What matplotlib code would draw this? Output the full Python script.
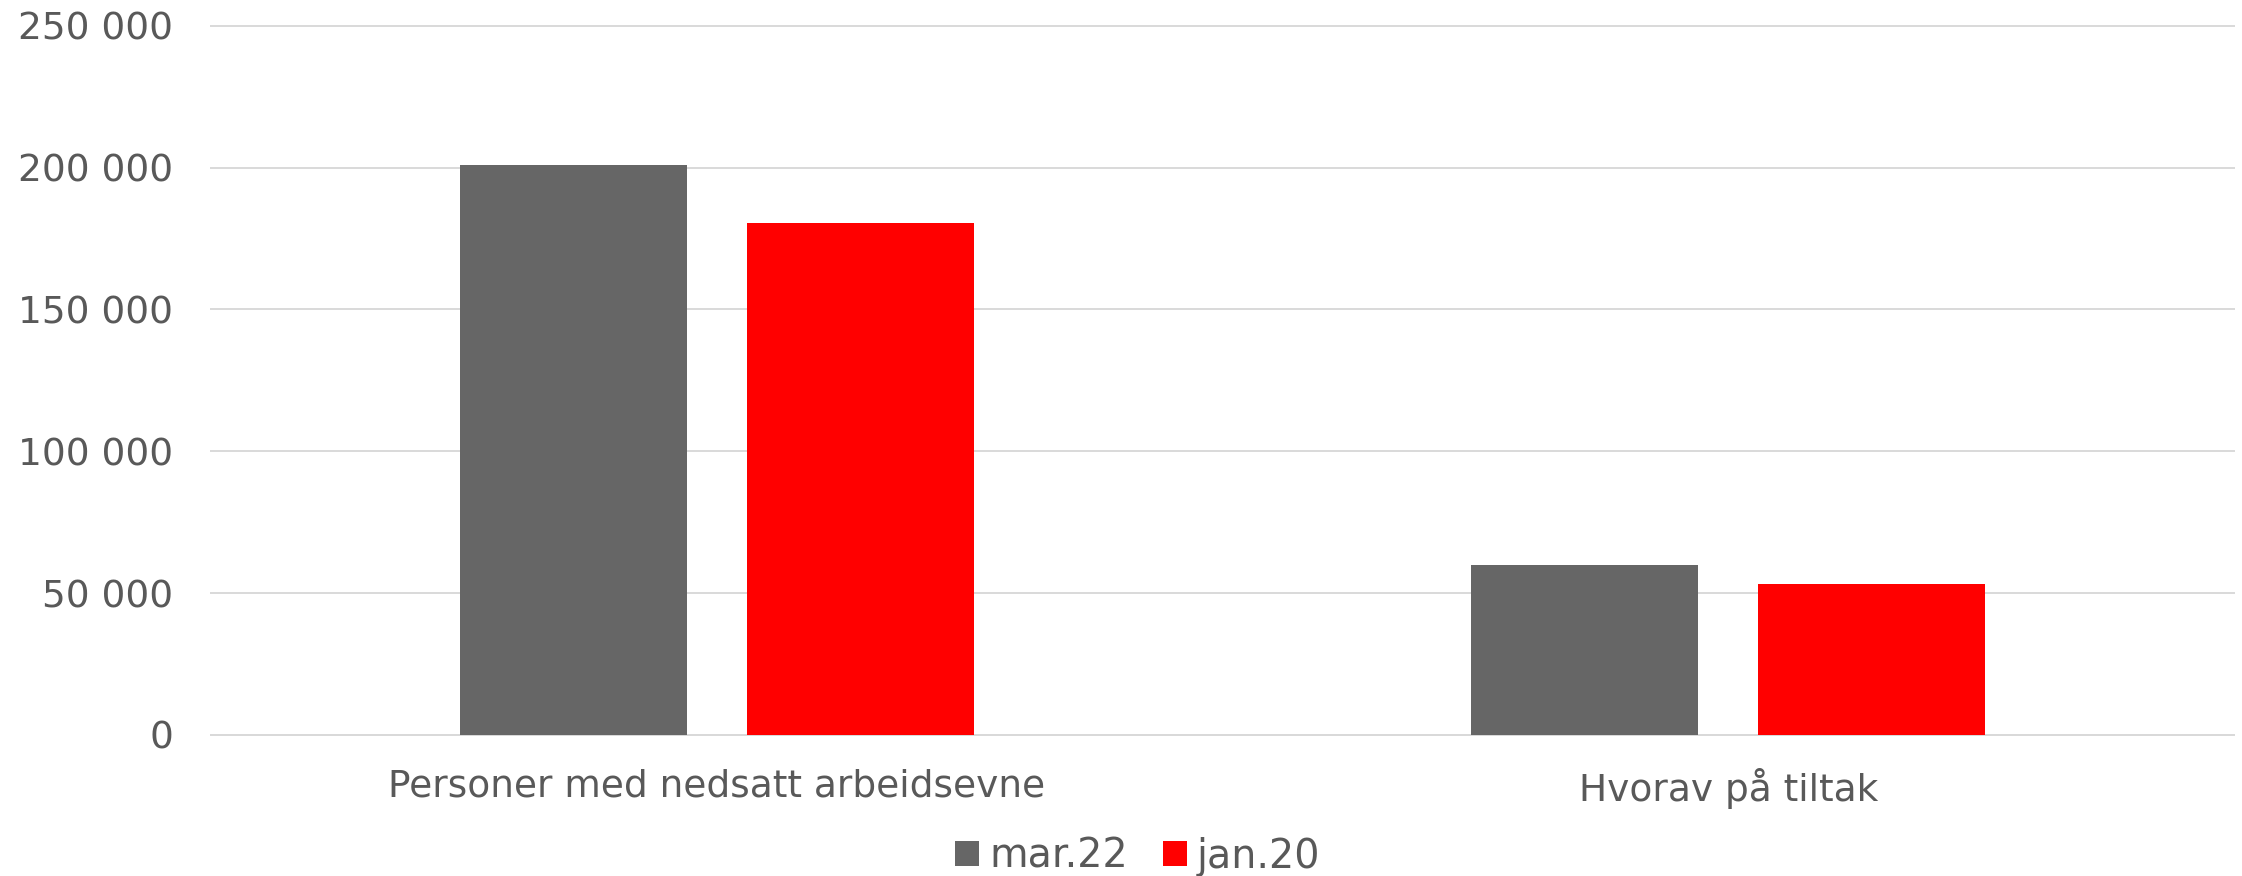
import numpy as np
import matplotlib
matplotlib.use("Agg")
import matplotlib.pyplot as plt
from matplotlib.ticker import FuncFormatter

# Kategorier og verdier lest av figuren
kategorier = ["Personer med nedsatt arbeidsevne", "Hvorav på tiltak"]
serier = ["mar.22", "jan.20"]
mar22 = [201000, 60000]
jan20 = [180600, 53300]
farger = ["#666666", "#ff0000"]

plt.rcParams['font.family'] = ['DejaVu Sans']
tekstfarge = "#595959"

fig = plt.figure(figsize=(22.42, 8.76), dpi=100)
ax = fig.add_axes([0.0941, 0.161, 0.9023, 0.8097])

x = np.arange(len(kategorier))
bredde = 0.2245
avstand = 0.142

ax.bar(x - avstand, mar22, width=bredde, color=farger[0], label=serier[0], zorder=3)
ax.bar(x + avstand, jan20, width=bredde, color=farger[1], label=serier[1], zorder=3)

ax.set_xlim(-0.5, 1.5)
ax.set_ylim(0, 250000)
ax.set_yticks(np.arange(0, 250001, 50000))
ax.yaxis.set_major_formatter(FuncFormatter(lambda v, p: f"{int(v):,}".replace(",", " ")))
ax.set_xticks(x)
ax.set_xticklabels(kategorier)

ax.grid(axis='y', color="#d9d9d9", linewidth=1.4, zorder=0)
for gl in ax.get_ygridlines():
    gl.set_clip_on(False)
for side in ['top', 'right', 'left']:
    ax.spines[side].set_visible(False)
ax.spines['bottom'].set_color("#d9d9d9")
ax.spines['bottom'].set_linewidth(1.4)

ax.tick_params(axis='y', length=0, pad=27, labelsize=27, labelcolor=tekstfarge)
ax.tick_params(axis='x', length=0, pad=24, labelsize=27, labelcolor=tekstfarge)

leg = fig.legend(loc='center', bbox_to_anchor=(0.5076, 0.022), ncol=2, frameon=False,
                 fontsize=28.5, handlelength=0.6, handleheight=0.6,
                 handletextpad=0.25, columnspacing=0.9, borderpad=0)
for t in leg.get_texts():
    t.set_color(tekstfarge)

fig.savefig("out.png", dpi=100)
